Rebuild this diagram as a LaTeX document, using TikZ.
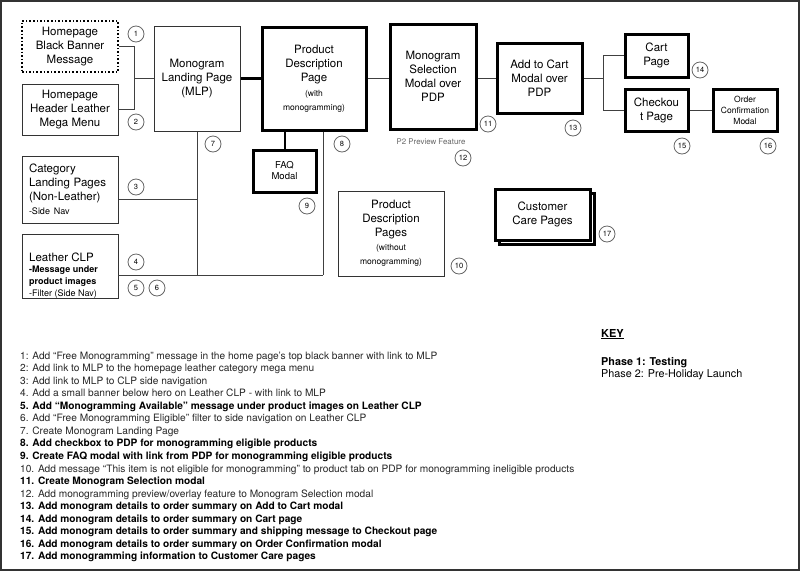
\documentclass[tikz,border=0pt]{standalone}
\usepackage{fontspec}
\setmainfont{TeX Gyre Heros}
\newcommand{\bigf}{\fontsize{11.5}{14}\selectfont}
\newcommand{\smf}{\fontsize{8.5}{11}\selectfont}
\newcommand{\listf}{\fontsize{10.15}{12}\selectfont}
\tikzset{
  box/.style={draw=black!80, line width=1pt, align=center, inner sep=2pt, font=\bigf},
  tbox/.style={box, draw=black, line width=3pt},
  dotbox/.style={box, draw=black, line width=1.6pt, dash pattern=on 1.6pt off 2pt},
  num/.style={circle, draw=black!60, line width=0.8pt, minimum size=16pt, inner sep=0pt, font=\fontsize{7.5}{8}\selectfont},
  conn/.style={draw=black!75, line width=1pt},
  tconn/.style={draw=black, line width=3pt},
  mconn/.style={draw=black, line width=2pt},
  listtxt/.style={font=\listf, inner sep=0pt, anchor=base west, text=black!85},
  listbold/.style={listtxt, font=\listf\bfseries, text=black},
}
\begin{document}
\begin{tikzpicture}[x=1pt,y=-1pt]
\useasboundingbox (0,0) rectangle (800,571);
\draw[draw=black!80, line width=2pt] (1,1) rectangle (799,570);

% ---------- boxes ----------
\node[dotbox, minimum width=96pt, minimum height=51pt] (hbb) at (70,46.5) {Homepage\\Black Banner\\Message};
\node[box, minimum width=96pt, minimum height=51pt] (hmm) at (70,109.5) {Homepage\\Header Leather\\Mega Menu};
\node[box, minimum width=86pt, minimum height=105pt] (mlp) at (197,78.5) {Monogram\\Landing Page\\(MLP)};
\node[tbox, minimum width=104pt, minimum height=103pt] (pdp) at (314,78.5) {Product\\Description\\Page\\[1pt]\smf (with\\\smf monogramming)};
\node[tbox, minimum width=86pt, minimum height=105pt] (msm) at (433,76.5) {Monogram\\Selection\\Modal over\\PDP};
\node[tbox, minimum width=85pt, minimum height=70pt] (atc) at (539.5,78) {Add to Cart\\Modal over\\PDP};
\node[tbox, minimum width=63pt, minimum height=43pt] (cart) at (656.5,55.5) {Cart\\Page};
\node[tbox, minimum width=63pt, minimum height=42pt] (chk) at (656.5,110) {Checkou\\t Page};
\node[tbox, minimum width=64pt, minimum height=42pt, font=\smf] (ocm) at (745,110) {Order\\Confirmation\\Modal};
\node[box, minimum width=96pt, minimum height=67pt, text width=82pt, align=left] (clp) at (70,189.5)
  {Category\\Landing Pages\\(Non-Leather)\\\fontsize{9}{15}\selectfont -Side Nav};
\node[box, minimum width=96pt, minimum height=64pt] (lclp) at (70,266) {};
\node[inner sep=0pt, anchor=north west, align=left, font=\bigf] (lclpt) at (29,252.5)
  {Leather CLP\\[-2.5pt]\fontsize{9}{11.5}\selectfont\bfseries -Message under\\[-2.5pt]\fontsize{9}{11.5}\selectfont\bfseries product images\\[-2pt]\fontsize{9}{12}\selectfont -Filter (Side Nav)};
\node[tbox, minimum width=63pt, minimum height=42pt, font=\fontsize{9.5}{11}\selectfont] (faq) at (284.5,171) {FAQ\\Modal};
\node[box, minimum width=106pt, minimum height=85pt] (pdpw) at (391,233.5) {Product\\Description\\Pages\\\smf (without\\\smf monogramming)};
\node[tbox, minimum width=95pt, minimum height=51pt] (ccs) at (546.5,218.5) {};
\node[tbox, fill=white, minimum width=95pt, minimum height=51pt] (cc) at (542.5,214.5) {Customer\\Care Pages};

% ---------- connectors ----------
\coordinate (j1) at (134,78.5);
\draw[conn] (hbb.east) -| (j1);
\draw[conn] (hmm.east) -| (j1);
\draw[conn] (j1) -- (mlp.west);
\draw[tconn] (mlp.east) -- (pdp.west);
\draw[conn] (pdp.east) -- (pdp.east -| msm.west);
\draw[conn] (atc.west -| msm.east) -- (atc.west);
\coordinate (j2) at (603,78);
\draw[conn] (atc.east) -- (j2);
\draw[conn] (cart.west) -| (j2);
\draw[conn] (chk.west) -| (j2);
\draw[conn] (chk.east) -- (ocm.west);
\draw[mconn] (pdp.south -| faq.north) -- (faq.north);
\coordinate (b0) at (118,275);
\coordinate (b2) at (323,275);
\coordinate (c3) at (197,199);
\draw[conn] (b0) -- (b2);
\draw[conn] (mlp.south) -- (mlp.south |- b0);
\draw[conn] (pdp.south -| b2) -- (b2);
\draw[conn] (c3 -| clp.east) -- (c3);

% ---------- numbers ----------
\node[num] (n1) at (136,34) {1};
\node[num] (n2) at (136,122) {2};
\node[num] (n3) at (136,187) {3};
\node[num] (n4) at (136,262) {4};
\node[num] (n5) at (136,288) {5};
\node[num] (n6) at (157,288) {6};
\node[num] (n7) at (213,144) {7};
\node[num] (n8) at (342,144) {8};
\node[num] (n9) at (307,206) {9};
\node[num] (n10) at (459,266) {10};
\node[num] (n11) at (488,124) {11};
\node[num] (n12) at (463,158) {12};
\node[num] (n13) at (573,128) {13};
\node[num] (n14) at (700,70) {14};
\node[num] (n15) at (682,146) {15};
\node[num] (n16) at (768,146) {16};
\node[num] (n17) at (607,234) {17};

\node[text=black!60, font=\fontsize{7.9}{9}\selectfont, inner sep=0pt] (p2) at (431,142) {P2 Preview Feature};

% ---------- key ----------
\node[anchor=base west, inner sep=0pt, font=\fontsize{11}{13}\selectfont\bfseries] (key) at (601,337) {\underline{KEY}};
\node[anchor=base west, inner sep=0pt, font=\fontsize{10.8}{13}\selectfont\bfseries] (ph1) at (601,365) {Phase 1: Testing};
\node[anchor=base west, inner sep=0pt, font=\fontsize{10.8}{13}\selectfont] (ph2) at (601,377.5) {Phase 2: Pre-Holiday Launch};

% ---------- list ----------
\node[listtxt] (l1) at (20,359) {1: Add “Free Monogramming” message in the home page’s top black banner with link to MLP};
\node[listtxt] (l2) at (20,371.56) {2: Add link to MLP to the homepage leather category mega menu};
\node[listtxt] (l3) at (20,384.12) {3: Add link to MLP to CLP side navigation};
\node[listtxt] (l4) at (20,396.68) {4. Add a small banner below hero on Leather CLP - with link to MLP};
\node[listbold] (l5) at (20,409.24) {5. Add “Monogramming Available” message under product images on Leather CLP};
\node[listtxt] (l6) at (20,421.8) {6. Add “Free Monogramming Eligible” filter to side navigation on Leather CLP};
\node[listtxt] (l7) at (20,434.36) {7. Create Monogram Landing Page};
\node[listbold] (l8) at (20,446.92) {8. Add checkbox to PDP for monogramming eligible products};
\node[listbold] (l9) at (20,459.48) {9. Create FAQ modal with link from PDP for monogramming eligible products};
\node[listtxt] (l10) at (20,472.04) {10. Add message “This item is not eligible for monogramming” to product tab on PDP for monogramming ineligible products};
\node[listbold] (l11) at (20,484.6) {11. Create Monogram Selection modal};
\node[listtxt] (l12) at (20,497.16) {12. Add monogramming preview/overlay feature to Monogram Selection modal};
\node[listbold] (l13) at (20,509.72) {13. Add monogram details to order summary on Add to Cart modal};
\node[listbold] (l14) at (20,522.28) {14. Add monogram details to order summary on Cart page};
\node[listbold] (l15) at (20,534.84) {15. Add monogram details to order summary and shipping message to Checkout page};
\node[listbold] (l16) at (20,547.4) {16. Add monogram details to order summary on Order Confirmation modal};
\node[listbold] (l17) at (20,559.96) {17. Add monogramming information to Customer Care pages};
\end{tikzpicture}
\end{document}
